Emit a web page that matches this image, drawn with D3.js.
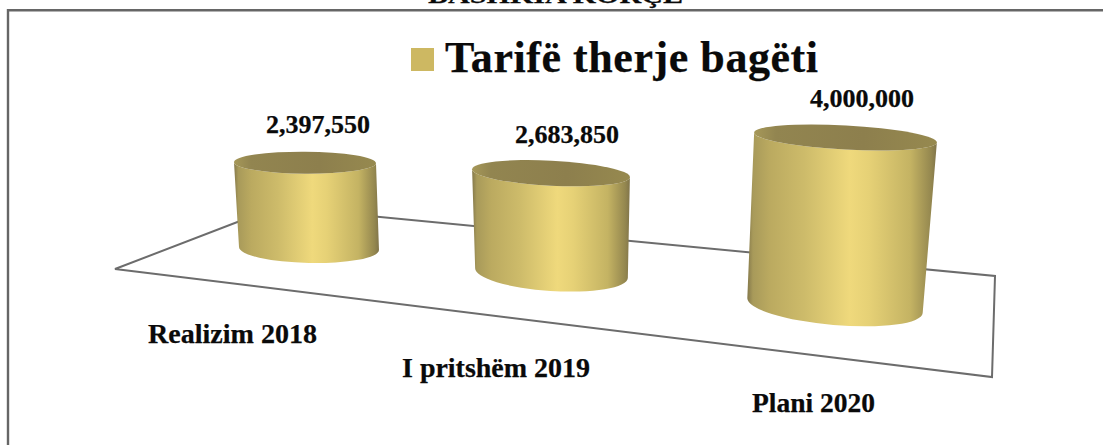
<!DOCTYPE html>
<html><head><meta charset="utf-8">
<script src="https://cdnjs.cloudflare.com/ajax/libs/d3/7.8.5/d3.min.js"></script>
<style>html,body{margin:0;padding:0;background:#fff;overflow:hidden}svg{display:block}
text{font-family:"Liberation Serif",serif;font-weight:bold;fill:#0a0a0a;stroke:#0a0a0a;stroke-width:.25px}</style>
</head><body><svg id="c" width="1103" height="445"></svg>
<script>
const categories = ["Realizim 2018", "I pritshëm 2019", "Plani 2020"];
const values = [2397550, 2683850, 4000000];
const seriesName = "Tarifë therje bagëti";
const pageHeading = "BASHKIA KORÇË";

const svg = d3.select("#c");
const fmt = d3.format(",");

// Position along the receding chart floor
const t = d3.scalePoint().domain(categories).range([0, 1]);
const stops = [0, .5, 1];
const piece = r => d3.scaleLinear().domain(stops).range(r);
const baseX = piece([309, 551.5, 835]);
const baseY = piece([248.5, 273, 305.5]);
const persp = piece([.895, .93, 1.05]);
const lean = piece([-4, -.5, 10.5]);
const rxTop = piece([71, 79, 91.5]);
const rxBot = piece([70, 76.5, 88]);
const ryTop = piece([11, 12.5, 12]);
const ryBot = piece([14.5, 18, 19.5]);
const tiltTop = piece([.4, 2.9, 3.1]);
const tiltBot = piece([1.2, 3.7, 4.9]);
const labelX = piece([318, 567, 862]);
const labelY = piece([133, 143, 107]);
const catX = piece([232.5, 496, 813.5]);
const catY = piece([343, 377, 412]);
const catW = piece([169, 188, 123]);

const h = d3.scaleLinear().domain([0, 4000000]).range([0, 160]);

// Frame: top and left rules only, running off the page
svg.append("path").attr("d", "M8,445V10.2H1103").attr("fill", "none").attr("stroke", "#666").attr("stroke-width", 2.4);
svg.append("text").attr("x", 555.5).attr("y", 3).attr("text-anchor", "middle").attr("font-size", 24)
   .attr("textLength", 255).attr("lengthAdjust", "spacingAndGlyphs").text(pageHeading);

// Floor
svg.append("path").attr("d", d3.line()([[115, 269], [276.6, 207], [995, 276], [992, 377]]) + "Z")
   .attr("fill", "#fff").attr("stroke", "#6c6c6c").attr("stroke-width", 2).attr("stroke-linejoin", "miter");

// Gradients
const defs = svg.append("defs");
const side = defs.append("linearGradient").attr("id", "side");
[[0, "#85794b"], [.03, "#a89a5a"], [.12, "#bbaa60"], [.3, "#cdbb6a"], [.54, "#efd97c"], [.64, "#e6d176"], [.86, "#c4b363"], [.97, "#94874f"], [1, "#80744a"]]
  .forEach(([o, c]) => side.append("stop").attr("offset", o).attr("stop-color", c));
const cap = defs.append("linearGradient").attr("id", "cap");
[[0, "#a69859"], [.12, "#928550"], [.6, "#8d7f4d"], [1, "#96894f"]]
  .forEach(([o, c]) => cap.append("stop").attr("offset", o).attr("stop-color", c));

// Cylinders
const rim = (cx, cy, rx, deg) => {
  const a = deg * Math.PI / 180;
  return { l: [cx - rx * Math.cos(a), cy - rx * Math.sin(a)], r: [cx + rx * Math.cos(a), cy + rx * Math.sin(a)] };
};
const g = svg.selectAll("g.cyl").data(categories.map((c, i) => ({ c, v: values[i], k: t(c) }))).join("g").attr("class", "cyl");
g.each(function (d) {
  const s = d3.select(this), k = d.k;
  const bx = baseX(k), by = baseY(k), tx = bx + lean(k), ty = by - h(d.v) * persp(k);
  const B = rim(bx, by, rxBot(k), tiltBot(k)), T = rim(tx, ty, rxTop(k), tiltTop(k));
  s.append("path").attr("fill", "url(#side)")
   .attr("d", `M${T.l}L${B.l}A${rxBot(k)},${ryBot(k)} ${tiltBot(k)} 0 0 ${B.r}L${T.r}A${rxTop(k)},${ryTop(k)} ${tiltTop(k)} 0 1 ${T.l}Z`);
  s.append("ellipse").attr("cx", 0).attr("cy", 0).attr("rx", rxTop(k)).attr("ry", ryTop(k))
   .attr("transform", `translate(${tx},${ty}) rotate(${tiltTop(k)})`).attr("fill", "url(#cap)");
});

// Value labels
svg.selectAll("text.val").data(categories).join("text").attr("class", "val")
   .attr("x", c => labelX(t(c))).attr("y", c => labelY(t(c))).attr("text-anchor", "middle").attr("font-size", 26)
   .text((c, i) => fmt(values[i]));

// Category labels
svg.selectAll("text.cat").data(categories).join("text").attr("class", "cat")
   .attr("x", c => catX(t(c))).attr("y", c => catY(t(c))).attr("text-anchor", "middle").attr("font-size", 27)
   .attr("textLength", c => catW(t(c))).attr("lengthAdjust", "spacingAndGlyphs").text(c => c);

// Legend
svg.append("rect").attr("x", 411).attr("y", 48).attr("width", 23).attr("height", 23).attr("fill", "#cdb862");
svg.append("text").attr("x", 445).attr("y", 72).attr("font-size", 44)
   .attr("textLength", 373).attr("lengthAdjust", "spacing").text(seriesName);
</script></body></html>
